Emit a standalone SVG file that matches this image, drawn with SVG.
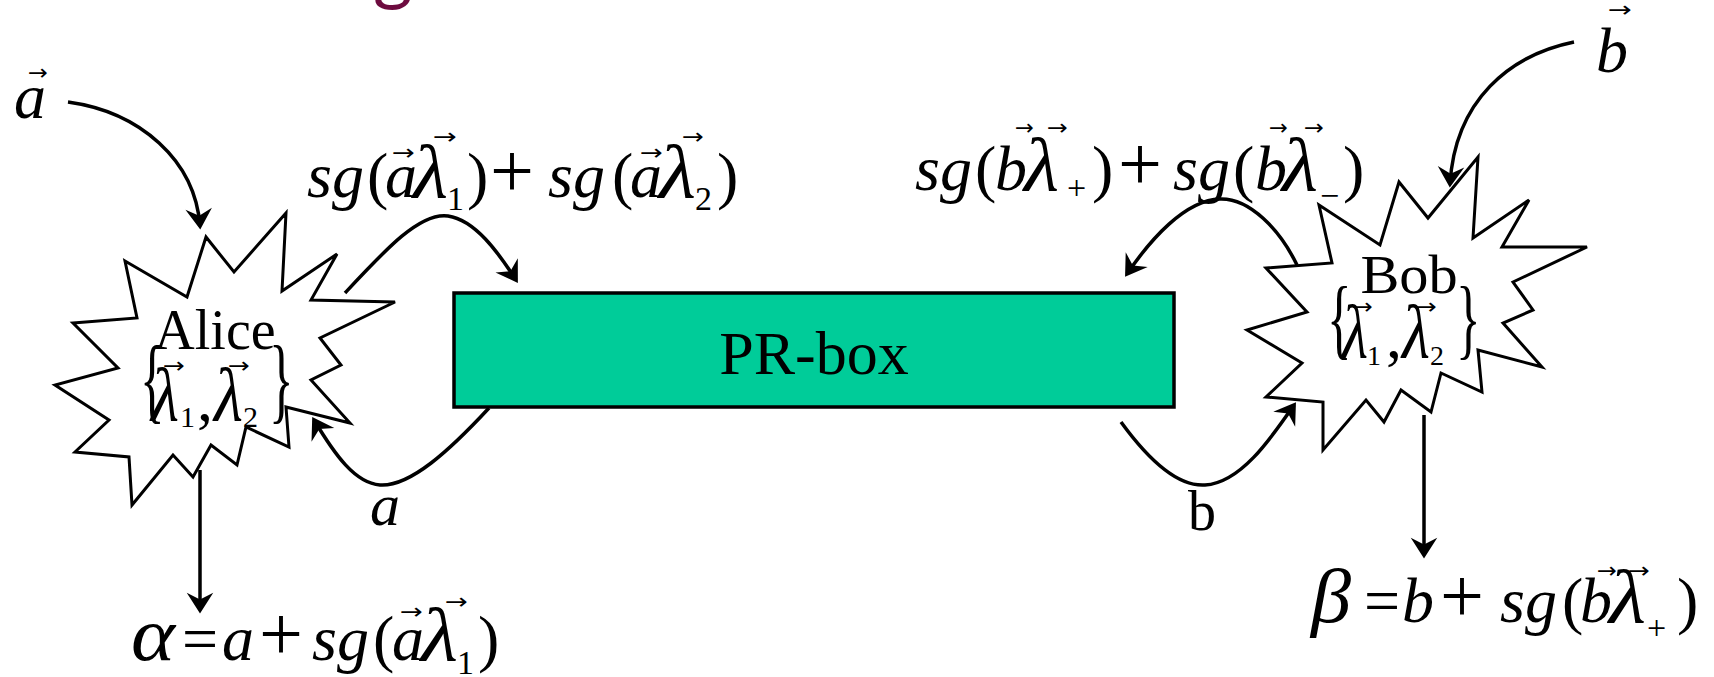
<svg xmlns="http://www.w3.org/2000/svg" width="1714" height="677" viewBox="0 0 1714 677">
<style>
.m{font-family:"Liberation Serif","Times New Roman",serif;font-size:64px;fill:#000}
.i{font-style:italic}
.L{font-family:"Liberation Serif","Times New Roman",serif;font-style:italic;font-size:76px;fill:#000}
.p{font-size:78px}
.sub{font-size:34px;font-style:normal}
.v{font-family:"DejaVu Sans",sans-serif;font-size:22px;fill:#000}
.lbl{font-family:"Liberation Serif","Times New Roman",serif;fill:#000}
.star{fill:#fff;stroke:#000;stroke-width:3;stroke-linejoin:miter}
.c{fill:none;stroke:#000;stroke-width:3.5}
</style>
<defs>
<marker id="ah" markerUnits="userSpaceOnUse" markerWidth="30" markerHeight="30" viewBox="-20 -13 24 26" refX="-3" refY="0" orient="auto">
<path d="M0,0 L-18,-11.5 L-12,0 L-18,11.5 Z" fill="#000"/>
</marker>
</defs>
<rect width="1714" height="677" fill="#fff"/>

<text x="373" y="-4" font-family="Lato,sans-serif" font-size="76" fill="#6D0B3F">g</text>

<g id="alice">
<polygon class="star" points="125,261 187,297 206,237 234,272 286,213 282,291 337,254 311,300 395,302 320,338 341,365 311,380 350,423 286,407 289,447 246,427 237,465 211,445 193,477 173,455 132,505 129,457 75,452 109,420 55,385 118,368 73,323 137,318"/>
<text class="lbl" x="215" y="349" font-size="56" text-anchor="middle">Alice</text>
<text class="m" transform="translate(140,411) scale(0.8,1.5)" font-size="60">{</text>
<text class="m" transform="translate(269,411) scale(0.8,1.5)" font-size="60">}</text>
<text class="L" x="151" y="421" font-size="64" textLength="28" lengthAdjust="spacingAndGlyphs">λ</text>
<text class="L" x="214" y="421" font-size="64" textLength="29" lengthAdjust="spacingAndGlyphs">λ</text>
<text class="m" y="421" font-size="60"><tspan x="180" y="427" font-size="30">1</tspan><tspan x="197" y="421">,</tspan><tspan x="243" y="427" font-size="30">2</tspan></text>
<text class="v" x="163" y="373" textLength="22" lengthAdjust="spacingAndGlyphs">→</text>
<text class="v" x="228" y="373" textLength="22" lengthAdjust="spacingAndGlyphs">→</text>
</g>

<g id="bob">
<polygon class="star" points="1319,205 1380,245 1399,182 1428,218 1478,157 1473,238 1529,200 1502,247 1587,247 1513,282 1533,310 1503,323 1542,367 1478,350 1482,392 1441,373 1431,412 1401,390 1384,422 1366,400 1323,450 1323,402 1266,397 1302,363 1247,330 1307,312 1266,268 1332,263"/>
<text class="lbl" transform="translate(1409,293) scale(1.08,1)" font-size="54" text-anchor="middle">Bob</text>
<text class="m" transform="translate(1327,348) scale(0.8,1.4)" font-size="60">{</text>
<text class="m" transform="translate(1456,348) scale(0.8,1.4)" font-size="60">}</text>
<text class="L" x="1342" y="358" font-size="54" textLength="26" lengthAdjust="spacingAndGlyphs">λ</text>
<text class="L" x="1402" y="358" font-size="54" textLength="28" lengthAdjust="spacingAndGlyphs">λ</text>
<text class="m" y="358" font-size="52"><tspan x="1367" y="365" font-size="28">1</tspan><tspan x="1386" y="358">,</tspan><tspan x="1430" y="365" font-size="28">2</tspan></text>
<text class="v" x="1352" y="314" textLength="21" lengthAdjust="spacingAndGlyphs">→</text>
<text class="v" x="1415" y="314" textLength="22" lengthAdjust="spacingAndGlyphs">→</text>
</g>

<g id="prbox">
<rect x="454" y="293" width="720" height="114" fill="#00CC99" stroke="#000" stroke-width="3.5"/>
<text class="lbl" x="814" y="374" font-size="62" text-anchor="middle">PR-box</text>
</g>

<g id="in-a">
<text class="m i" x="14" y="118">a</text>
<text class="v" x="28" y="80" textLength="20" lengthAdjust="spacingAndGlyphs">→</text>
</g>

<g id="in-b">
<text class="m i" x="1596" y="72">b</text>
<text class="v" x="1608" y="17" textLength="24" lengthAdjust="spacingAndGlyphs">→</text>
</g>

<g id="eq-alice-send">
<text class="m" y="197"><tspan class="i" x="307">sg</tspan><tspan x="367">(</tspan><tspan class="i" x="385">a</tspan><tspan class="sub" x="447" y="210">1</tspan><tspan x="467" y="197">)</tspan><tspan class="p" x="490">+</tspan><tspan class="i" x="548">sg</tspan><tspan x="612">(</tspan><tspan class="i" x="630">a</tspan><tspan class="sub" x="695" y="210">2</tspan><tspan x="717" y="197">)</tspan></text>
<text class="L" x="413" y="198" textLength="35" lengthAdjust="spacingAndGlyphs">λ</text>
<text class="L" x="659" y="198" textLength="37" lengthAdjust="spacingAndGlyphs">λ</text>
<text class="v" x="392" y="160" textLength="23" lengthAdjust="spacingAndGlyphs">→</text>
<text class="v" x="433" y="144" textLength="24" lengthAdjust="spacingAndGlyphs">→</text>
<text class="v" x="640" y="160" textLength="23" lengthAdjust="spacingAndGlyphs">→</text>
<text class="v" x="682" y="144" textLength="22" lengthAdjust="spacingAndGlyphs">→</text>
</g>

<g id="eq-bob-send">
<text class="m" y="190"><tspan class="i" x="915">sg</tspan><tspan x="975">(</tspan><tspan class="i" x="995">b</tspan><tspan class="sub" x="1067" y="199">+</tspan><tspan x="1092" y="190">)</tspan><tspan class="p" x="1118">+</tspan><tspan class="i" x="1173">sg</tspan><tspan x="1233">(</tspan><tspan class="i" x="1255">b</tspan><tspan class="sub" x="1320" y="207">−</tspan><tspan x="1343" y="190">)</tspan></text>
<text class="L" x="1024" y="191" textLength="35" lengthAdjust="spacingAndGlyphs">λ</text>
<text class="L" x="1282" y="191" textLength="36" lengthAdjust="spacingAndGlyphs">λ</text>
<text class="v" x="1015" y="135" textLength="19" lengthAdjust="spacingAndGlyphs">→</text>
<text class="v" x="1047" y="135" textLength="21" lengthAdjust="spacingAndGlyphs">→</text>
<text class="v" x="1269" y="135" textLength="19" lengthAdjust="spacingAndGlyphs">→</text>
<text class="v" x="1304" y="135" textLength="20" lengthAdjust="spacingAndGlyphs">→</text>
</g>

<g id="eq-alpha">
<text class="L" x="131" y="660" font-size="80" textLength="44" lengthAdjust="spacingAndGlyphs">α</text>
<text class="m" y="660"><tspan x="182">=</tspan><tspan class="i" x="222">a</tspan><tspan class="p" x="259">+</tspan><tspan class="i" x="312">sg</tspan><tspan x="373">(</tspan><tspan class="i" x="392">a</tspan><tspan class="sub" x="457" y="674">1</tspan><tspan x="478" y="660">)</tspan></text>
<text class="L" x="421" y="661" textLength="37" lengthAdjust="spacingAndGlyphs">λ</text>
<text class="v" x="400" y="619" textLength="23" lengthAdjust="spacingAndGlyphs">→</text>
<text class="v" x="445" y="609" textLength="23" lengthAdjust="spacingAndGlyphs">→</text>
</g>

<g id="eq-beta">
<text class="L" x="1311" y="622" font-size="78" textLength="40" lengthAdjust="spacingAndGlyphs">β</text>
<text class="m" y="622"><tspan x="1364">=</tspan><tspan class="i" x="1402">b</tspan><tspan class="p" x="1440">+</tspan><tspan class="i" x="1500">sg</tspan><tspan x="1562">(</tspan><tspan class="i" x="1580">b</tspan><tspan class="sub" x="1647" y="639">+</tspan><tspan x="1677" y="622">)</tspan></text>
<text class="L" x="1609" y="623" textLength="37" lengthAdjust="spacingAndGlyphs">λ</text>
<text class="v" x="1597" y="578" textLength="20" lengthAdjust="spacingAndGlyphs">→</text>
<text class="v" x="1628" y="578" textLength="22" lengthAdjust="spacingAndGlyphs">→</text>
</g>

<g id="connectors">
<path class="c" marker-end="url(#ah)" d="M68,102 C140,112 195,160 200,226"/>
<path class="c" marker-end="url(#ah)" d="M345,293 C385,250 420,212 448,216 C475,220 498,252 516,280"/>
<path class="c" marker-end="url(#ah)" d="M489,408 C450,450 410,487 380,485 C355,483 335,455 314,420"/>
<path class="c" marker-end="url(#ah)" d="M1297,265 C1280,230 1250,198 1220,199 C1185,200 1150,240 1127,274"/>
<path class="c" marker-end="url(#ah)" d="M1121,422 C1145,455 1175,487 1205,485 C1240,483 1270,440 1294,405"/>
<path class="c" marker-end="url(#ah)" d="M1574,42 C1510,55 1455,100 1450,184"/>
<path class="c" marker-end="url(#ah)" d="M200,470 L200,610"/>
<path class="c" marker-end="url(#ah)" d="M1424,415 L1424,555"/>
<text class="lbl" x="370" y="525" font-size="60" font-style="italic">a</text>
<text class="lbl" x="1188" y="530" font-size="56">b</text>
</g>
</svg>
